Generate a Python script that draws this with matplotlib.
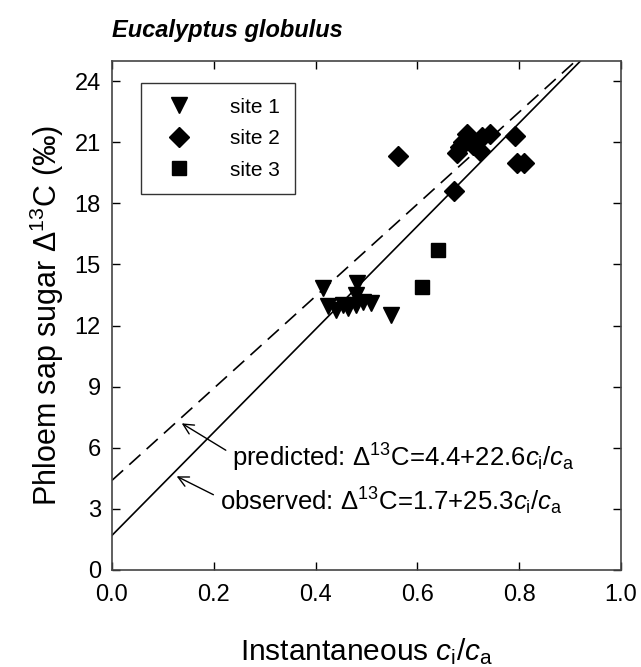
import numpy as np
import matplotlib
matplotlib.use("Agg")
from matplotlib import pyplot as plt

plt.rcParams['font.family'] = ['Liberation Sans', 'DejaVu Sans']
plt.rcParams['mathtext.fontset'] = 'custom'
plt.rcParams['mathtext.rm'] = 'Liberation Sans'
plt.rcParams['mathtext.it'] = 'Liberation Sans:italic'

# data
site1_x = [0.414, 0.481, 0.425, 0.440, 0.454, 0.464, 0.479, 0.479, 0.494, 0.508, 0.549]
site1_y = [13.85, 14.1, 12.95, 12.75, 13.0, 12.85, 13.0, 13.5, 13.15, 13.1, 12.5]
site2_x = [0.5625, 0.671, 0.792, 0.795, 0.809, 0.677, 0.697, 0.690, 0.710, 0.723, 0.726, 0.743, 0.703, 0.684]
site2_y = [20.3, 18.6, 21.3, 20.0, 20.0, 20.45, 21.4, 21.0, 20.85, 20.55, 21.25, 21.4, 21.1, 20.75]
site3_x = [0.641, 0.610]
site3_y = [15.7, 13.9]

obs_coef = (1.7, 25.3)
pred_coef = (4.4, 22.6)

fig = plt.figure(figsize=(6.41, 6.67), dpi=100)
ax = fig.add_axes([112/641, 1 - 570/667, 509/641, 509.3/667])

ax.plot(site1_x, site1_y, 'v', color='black', markersize=11.5, label='site 1', linestyle='none')
ax.plot(site2_x, site2_y, 'D', color='black', markersize=10, label='site 2', linestyle='none')
ax.plot(site3_x, site3_y, 's', color='black', markersize=10.5, label='site 3', linestyle='none')

# regression lines
xl = np.linspace(0, 1, 50)
ax.plot(xl, obs_coef[0] + obs_coef[1] * xl, color='black', lw=1.2)
ax.plot(xl, pred_coef[0] + pred_coef[1] * xl, color='black', lw=1.2, dashes=(9, 5))

ax.set_xlim(0, 1)
ax.set_ylim(0, 25)
ax.set_xticks(np.arange(0, 1.01, 0.2))
ax.set_yticks(np.arange(0, 25, 3))
ax.set_xticklabels(['0.0', '0.2', '0.4', '0.6', '0.8', '1.0'])
ax.tick_params(direction='in', top=True, right=True, labelsize=17, length=6, width=1)
ax.tick_params(axis='x', pad=10)
ax.tick_params(axis='y', pad=8)
for s in ax.spines.values():
    s.set_linewidth(1.2)
    s.set_color('#444444')

ax.set_xlabel(r'Instantaneous $\it{c}_\mathrm{i}/\it{c}_\mathrm{a}$', fontsize=21.5, labelpad=22)
ax.set_ylabel(r'Phloem sap sugar $\Delta^{13}$C (‰)', fontsize=22, labelpad=6)

# annotations
ax.annotate('predicted: $\\Delta^{13}$C=4.4+22.6$\\it{c}_\\mathrm{i}/\\it{c}_\\mathrm{a}$',
            xy=(0.137, 7.2), xytext=(0.236, 5.5), fontsize=18.5, va='center',
            arrowprops=dict(arrowstyle='->', color='black', lw=1, shrinkA=3, shrinkB=0,
                            relpos=(0, 0.62)))
ax.annotate('observed: $\\Delta^{13}$C=1.7+25.3$\\it{c}_\\mathrm{i}/\\it{c}_\\mathrm{a}$',
            xy=(0.127, 4.6), xytext=(0.212, 3.35), fontsize=18.5, va='center',
            arrowprops=dict(arrowstyle='->', color='black', lw=1, shrinkA=3, shrinkB=0,
                            relpos=(0, 0.62)))

leg = ax.legend(loc='upper left', bbox_to_anchor=(0.056, 0.956), fontsize=15, frameon=True,
                fancybox=False, edgecolor='black', handletextpad=1.3, borderpad=0.7,
                labelspacing=0.6, handlelength=2.3, borderaxespad=0)
leg.get_frame().set_linewidth(1.0)

fig.text(112/641, 1 - 31/667, 'Eucalyptus globulus', fontsize=17, fontweight='bold',
         fontstyle='italic', va='center', ha='left')

fig.savefig('out.png', dpi=100)
